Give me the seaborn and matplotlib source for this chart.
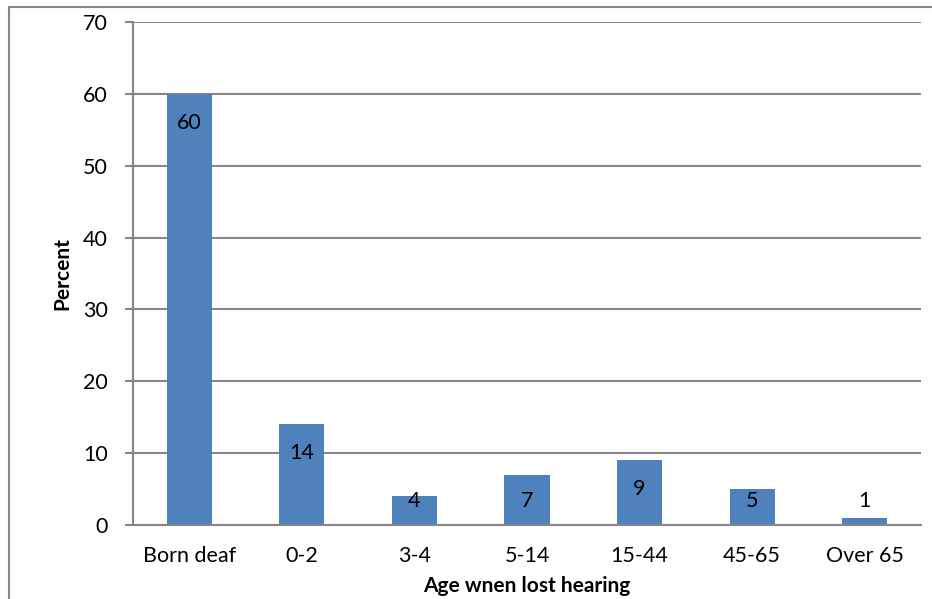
import matplotlib
matplotlib.use("Agg")
import matplotlib.pyplot as plt
from matplotlib.patches import Rectangle
import seaborn as sns
import pandas as pd

categories = ["Born deaf", "0-2", "3-4", "5-14", "15-44", "45-65", "Over 65"]
percent = [60, 14, 4, 7, 9, 5, 1]
y_ticks = [0, 10, 20, 30, 40, 50, 60, 70]

df = pd.DataFrame({"age": categories, "percent": percent})

sns.set_theme(style="white")
plt.rcParams["font.family"] = ["Lato", "DejaVu Sans"]

W, H = 932, 599
fig = plt.figure(figsize=(W / 100, H / 100), dpi=100)
ax = fig.add_axes([133 / W, 1 - 525 / H, (921 - 133) / W, (525 - 22) / H])

grid_color = "#868686"
ax.set_axisbelow(True)
ax.yaxis.grid(True, color=grid_color, linewidth=1.5)

sns.barplot(data=df, x="age", y="percent", color="#4F81BD", saturation=1,
            width=0.4, ax=ax, edgecolor="none")

ax.set_ylim(0, 70)
ax.set_yticks(y_ticks)
ax.set_xlim(-0.5, len(categories) - 0.5)

for side in ["top", "right"]:
    ax.spines[side].set_visible(False)
for side in ["left", "bottom"]:
    ax.spines[side].set_color(grid_color)
    ax.spines[side].set_linewidth(1.5)

ax.tick_params(axis="y", which="major", left=True, length=6, width=1.5,
               color=grid_color, pad=12, labelsize=15.5, labelcolor="black")
ax.tick_params(axis="x", bottom=False, pad=9, labelsize=15.5, labelcolor="black")

ax.set_xlabel("Age wnen lost hearing", fontsize=15, fontweight="bold",
              labelpad=7, color="black")
ax.set_ylabel("Percent", fontsize=15, fontweight="bold", labelpad=8,
              color="black")

# value labels: inside the bar top, pushed up for short bars
for i, v in enumerate(percent):
    ly = max(v - 4.0, 3.4)
    ax.text(i, ly, str(v), ha="center", va="center", fontsize=15.5,
            color="black")

# outer chart frame
fig.patches.append(Rectangle((9 / W, -0.1), 1.2, 1 - 7 / H + 0.1,
                             transform=fig.transFigure, fill=False,
                             edgecolor="#888888", linewidth=1.5))

fig.savefig("out.png", dpi=100, facecolor="white")
